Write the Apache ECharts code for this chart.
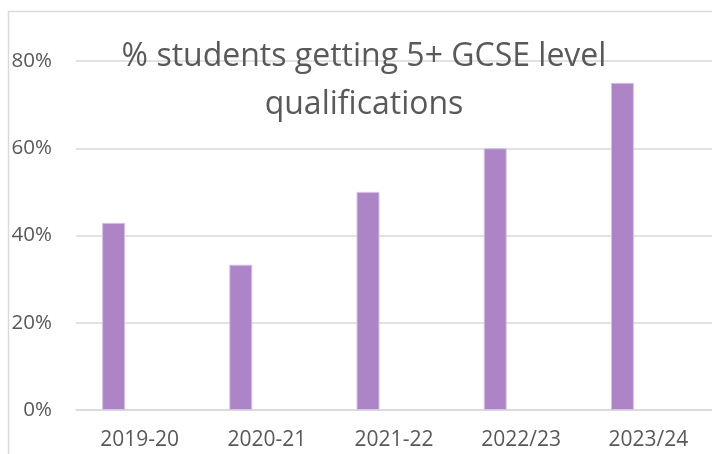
<!DOCTYPE html>
<html>
<head>
<meta charset="utf-8">
<script src="https://cdn.jsdelivr.net/npm/echarts@6/dist/echarts.min.js"></script>
<style>
  html, body { margin: 0; padding: 0; background: #fff; }
  #chart { width: 712px; height: 454px; }
</style>
</head>
<body>
<div id="chart"></div>
<script>
// data
const years = ['2019-20', '2020-21', '2021-22', '2022/23', '2023/24'];
const pctStudents = [42.9, 33.3, 50, 60, 75];
const emptySeries = [null, null, null, null, null];
const titleText = '% students getting 5+ GCSE level\nqualifications';

const chart = echarts.init(document.getElementById('chart'));

const option = {
  animation: false,
  title: {
    text: titleText,
    left: 364,
    top: 33,
    padding: 0,
    textAlign: 'center',
    textStyle: {
      fontFamily: 'Open Sans',
      fontSize: 32,
      fontWeight: 'normal',
      color: '#595959',
      lineHeight: 48
    }
  },
  graphic: [
    {
      type: 'rect',
      silent: true,
      shape: { x: 8.5, y: 11.5, width: 800, height: 600 },
      style: { fill: 'none', stroke: '#d9d9d9', lineWidth: 1.5 }
    }
  ],
  grid: { left: 76, right: -10.5, top: 61, bottom: 44 },
  xAxis: {
    type: 'category',
    data: years,
    axisLine: { lineStyle: { color: '#d9d9d9', width: 1.5 } },
    axisTick: { show: false },
    axisLabel: {
      color: '#595959',
      fontFamily: 'Open Sans',
      fontSize: 21,
      margin: 20
    }
  },
  yAxis: {
    type: 'value',
    min: 0,
    max: 80,
    interval: 20,
    axisLine: { show: false },
    axisTick: { show: false },
    splitLine: { lineStyle: { color: '#d9d9d9', width: 1.5 } },
    axisLabel: {
      color: '#595959',
      fontFamily: 'Open Sans',
      fontSize: 20.5,
      margin: 24,
      formatter: '{value}%'
    }
  },
  series: [
    {
      type: 'bar',
      data: pctStudents,
      barWidth: 23,
      barGap: '126%',
      itemStyle: { color: '#ad84c6', borderColor: '#d6c2e3', borderWidth: 1 }
    },
    {
      type: 'bar',
      data: emptySeries,
      barWidth: 23
    }
  ]
};

chart.setOption(option);
</script>
</body>
</html>
